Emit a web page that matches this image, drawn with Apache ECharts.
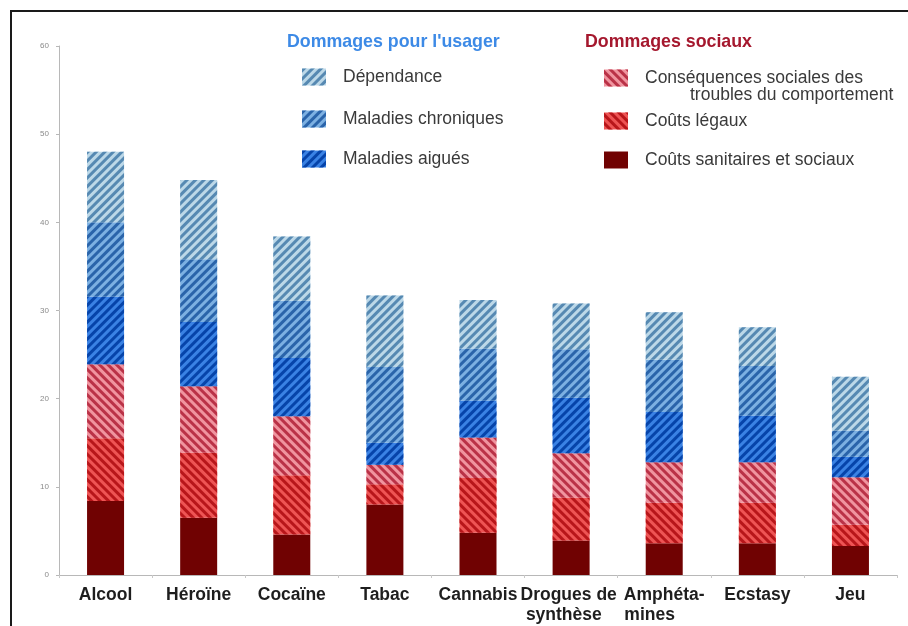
<!DOCTYPE html>
<html>
<head>
<meta charset="utf-8">
<script src="https://cdn.jsdelivr.net/npm/echarts@6/dist/echarts.min.js"></script>
<style>
html,body{margin:0;padding:0;background:#fff;}
#c{width:908px;height:626px;}
</style>
</head>
<body>
<div id="c"></div>
<script>
// Data
var categories = ['Alcool', 'Héroïne', 'Cocaïne', 'Tabac', 'Cannabis', 'Drogues de \nsynthèse   ', 'Amphéta-\nmines      ', 'Ecstasy', 'Jeu'];
var yTicks = [0, 10, 20, 30, 40, 50, 60];
var sanitaires   = [8.4, 6.5, 4.6, 8.0, 4.8, 3.9, 3.6, 3.6, 3.3];
var legaux       = [7.1, 7.4, 6.7, 2.3, 6.2, 4.9, 4.6, 4.6, 2.4];
var consequences = [8.4, 7.5, 6.7, 2.2, 4.6, 5.0, 4.6, 4.6, 5.4];
var aigues       = [7.7, 7.3, 6.6, 2.5, 4.2, 6.3, 5.7, 5.3, 2.3];
var chroniques   = [8.4, 7.1, 6.5, 8.6, 5.9, 5.5, 5.9, 5.6, 3.0];
var dependance   = [8.0, 9.0, 7.3, 8.1, 5.5, 5.2, 5.4, 4.4, 6.1];

var N_SAN = 'Coûts sanitaires et sociaux';
var N_LEG = 'Coûts légaux';
var N_CON = 'Conséquences sociales des';
var N_CON2 = 'troubles du comportement';
var N_AIG = 'Maladies aigués';
var N_CHR = 'Maladies chroniques';
var N_DEP = 'Dépendance';

function stripe(color, dir) {
  return {
    symbol: 'rect',
    symbolSize: 1,
    color: color,
    dashArrayX: [1, 0],
    dashArrayY: [3, 3],
    rotation: dir * Math.PI / 4
  };
}

function bar(name, data, color, decal) {
  var s = {
    name: name,
    type: 'bar',
    stack: 'total',
    barWidth: 37,
    data: data,
    itemStyle: { color: color }
  };
  if (decal) s.itemStyle.decal = decal;
  return s;
}

var FONT = '"Liberation Sans", Arial, sans-serif';
var LFS = 17.5;

function leg(name, left, top) {
  return {
    data: [name],
    left: left,
    top: top,
    orient: 'vertical',
    itemWidth: 24,
    itemHeight: 17,
    icon: 'rect',
    selectedMode: false,
    formatter: '{a|{name}}',
    textStyle: {
      fontFamily: FONT,
      fontSize: LFS,
      color: '#3a3a3a',
      rich: { a: { fontFamily: FONT, fontSize: LFS, color: '#3a3a3a', padding: [0, 0, 0, 12] } }
    }
  };
}

var chart = echarts.init(document.getElementById('c'), null, { renderer: 'canvas' });
chart.setOption({
  backgroundColor: '#fff',
  animation: false,
  grid: { left: 59, right: 11, top: 46, bottom: 51, containLabel: false, outerBoundsMode: 'none' },
  xAxis: {
    type: 'category',
    data: categories,
    axisLine: { lineStyle: { color: '#b8b8b8', width: 1 } },
    axisTick: { show: true, length: 3, lineStyle: { color: '#c8c8c8' } },
    axisLabel: {
      interval: 0,
      margin: 10,
      fontFamily: FONT,
      fontSize: 17.5,
      fontWeight: 'bold',
      color: '#1e1e1e',
      lineHeight: 20
    }
  },
  yAxis: {
    type: 'value',
    min: 0,
    max: 60,
    interval: 10,
    splitLine: { show: false },
    axisLine: { show: true, lineStyle: { color: '#b8b8b8' } },
    axisTick: { show: true, length: 3, lineStyle: { color: '#b8b8b8' } },
    axisLabel: {
      fontFamily: FONT,
      fontSize: 8,
      color: '#8a8a8a',
      margin: 10,
      formatter: function (v) { return yTicks.indexOf(v) >= 0 ? String(v) : ''; }
    }
  },
  legend: [
    leg(N_DEP, 297, 63),
    leg(N_CHR, 297, 105),
    leg(N_AIG, 297, 145),
    leg(N_CON, 599, 64),
    leg(N_LEG, 599, 107),
    leg(N_SAN, 599, 146)
  ],
  graphic: [
    { type: 'text', left: 287, top: 33, style: { text: "Dommages pour l'usager", font: 'bold 17.8px ' + FONT, fill: '#3d8ae6' } },
    { type: 'text', left: 585, top: 33, style: { text: 'Dommages sociaux', font: 'bold 17.8px ' + FONT, fill: '#a5182e' } },
    { type: 'text', left: 690, top: 86, style: { text: N_CON2, font: LFS + 'px ' + FONT, fill: '#3a3a3a' } },
    { type: 'polyline', shape: { points: [[11, 640], [11, 11], [920, 11]] }, style: { stroke: '#1a1a1a', lineWidth: 2, fill: null } }
  ],
  series: [
    bar(N_SAN, sanitaires, '#700202', null),
    bar(N_LEG, legaux, '#ee5454', stripe('#b8161a', 1)),
    bar(N_CON, consequences, '#f0949f', stripe('#ba3247', 1)),
    bar(N_AIG, aigues, '#3a82e4', stripe('#0644aa', -1)),
    bar(N_CHR, chroniques, '#7cb0e2', stripe('#2a64aa', -1)),
    bar(N_DEP, dependance, '#bcd8e8', stripe('#5689b2', -1))
  ]
});
</script>
</body>
</html>
